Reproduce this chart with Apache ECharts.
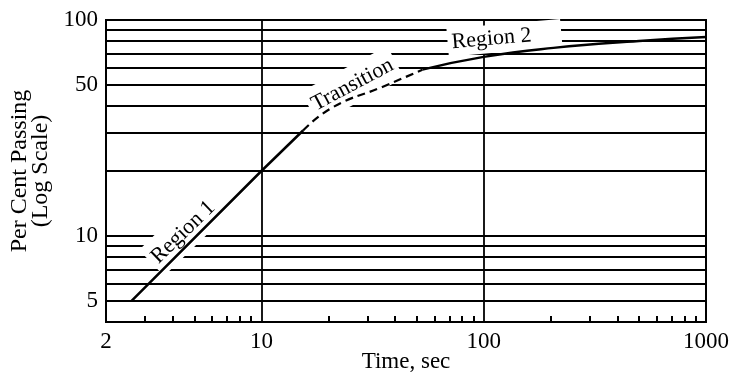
<!DOCTYPE html>
<html>
<head>
<meta charset="utf-8">
<script src="https://cdn.jsdelivr.net/npm/echarts@6/dist/echarts.min.js"></script>
<style>
html, body { margin: 0; padding: 0; background: #fff; }
#chartMain { width: 731px; height: 380px; }
</style>
</head>
<body>
<div id="chartMain"></div>
<script>
// 数据
var region1 = [[2.6, 5], [10, 20], [15.4, 30.8]];
var transition = [[15.4, 30.8], [21, 39.5], [35, 49], [53, 58.9]];
var region2 = [[53, 58.9], [100, 67.5], [206, 74.3], [500, 80], [1000, 83.5]];

var xTickLabels = [2, 10, 100, 1000];
var xMinorTicks = [3, 4, 5, 6, 7, 8, 9, 20, 30, 40, 50, 60, 70, 80, 90, 200, 300, 400, 500, 600, 700, 800, 900];
var yTickLabels = [5, 10, 50, 100];
var yGridValues = [5, 6, 7, 8, 9, 10, 20, 30, 40, 50, 60, 70, 80, 90];
var xGridValues = [10, 100];

var noteNames = ['Region 1', 'Transition', 'Region 2'];
var notePoints = [[4.45, 10.4], [25.7, 50.1], [124, 82.7]];
var noteAngles = [44, 28, 5];

var FONT = '"Liberation Serif", "Times New Roman", serif';
var myChart = echarts.init(document.getElementById('chartMain'));

var gridLines = [];
yGridValues.forEach(function (v) { gridLines.push({ yAxis: v }); });
xGridValues.forEach(function (v) { gridLines.push({ xAxis: v }); });

// 标注的白色底框（遮住网格线）
var notePads = [[2, 4, 12, 4], [2, 4, 12, 4], [2, 30, 4, 4]];
var notes = noteNames.map(function (n, i) {
	return {
		name: n,
		value: notePoints[i],
		label: { rotate: noteAngles[i], padding: notePads[i] }
	};
});

option = {
	animation: false,
	grid: {
		left: 106, right: 25, top: 20, bottom: 58,
		containLabel: false, outerBoundsMode: 'none',
		show: true, borderColor: '#000', borderWidth: 2, backgroundColor: 'transparent'
	},
	xAxis: {
		type: 'log', logBase: 10, min: 2, max: 1000,
		name: 'Time, sec', nameLocation: 'middle', nameGap: 28, nameMoveOverlap: false,
		nameTextStyle: { color: '#000', fontFamily: FONT, fontSize: 23 },
		axisLine: { lineStyle: { color: '#000', width: 2 } },
		axisTick: { show: true, inside: true, length: 6, customValues: xMinorTicks, lineStyle: { color: '#000', width: 2 } },
		axisLabel: {
			customValues: xTickLabels, margin: 8, color: '#000', fontFamily: FONT, fontSize: 23,
			formatter: function (v) { return String(Math.round(v)); }
		},
		splitLine: { show: false },
		minorTick: { show: false }
	},
	yAxis: {
		type: 'log', logBase: 10, min: 4, max: 100,
		name: 'Per Cent Passing\n(Log Scale)', nameLocation: 'middle', nameRotate: 90, nameGap: 55,
		nameMoveOverlap: false,
		nameTextStyle: { color: '#000', fontFamily: FONT, fontSize: 24, lineHeight: 21 },
		axisLine: { lineStyle: { color: '#000', width: 2 } },
		axisTick: { show: false },
		axisLabel: {
			customValues: yTickLabels, margin: 8, color: '#000', fontFamily: FONT, fontSize: 23,
			formatter: function (v) { return String(Math.round(v)); }
		},
		splitLine: { show: false }
	},
	series: [
		{
			name: 'Region 1', type: 'line', z: 5, data: region1,
			symbol: 'none', lineStyle: { color: '#000', width: 2.5 },
			markLine: {
				z: 1, silent: true, symbol: 'none', label: { show: false },
				lineStyle: { color: '#000', width: 1.8, type: 'solid' },
				emphasis: { disabled: true },
				data: gridLines
			}
		},
		{
			name: 'Transition', type: 'line', z: 5, data: transition, smooth: true,
			symbol: 'none', lineStyle: { color: '#000', width: 2.2, type: [8, 5] }
		},
		{
			name: 'Region 2', type: 'line', z: 5, data: region2, smooth: true,
			symbol: 'none', lineStyle: { color: '#000', width: 2.5 }
		},
		{
			name: 'notes', type: 'scatter', z: 3, clip: false, symbolSize: 0, data: notes,
			itemStyle: { opacity: 1 },
			label: {
				show: true, position: 'inside', formatter: '{b}', opacity: 1,
				color: '#000', fontFamily: FONT, fontSize: 22, backgroundColor: '#fff'
			}
		}
	]
};

myChart.setOption(option);
</script>
</body>
</html>
